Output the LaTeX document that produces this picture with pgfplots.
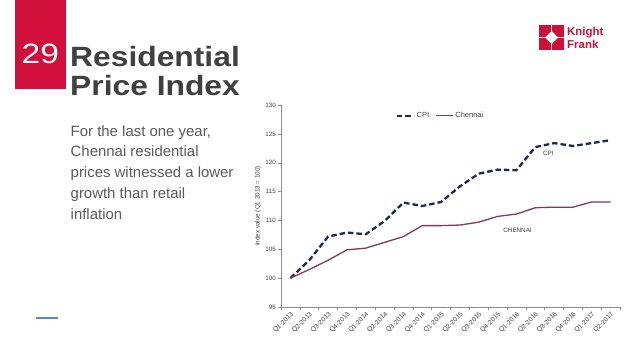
\documentclass[border=0pt]{standalone}
\usepackage{pgfplots}
\pgfplotsset{compat=1.18}
\usepackage{fontspec}
\setmainfont{Liberation Sans}
\definecolor{kfred}{HTML}{D0103A}
\definecolor{cpi}{HTML}{1B2A52}
\definecolor{chen}{HTML}{7D3C5E}
\definecolor{txt}{HTML}{5A5A5A}
\definecolor{ttl}{HTML}{404040}
\definecolor{axc}{HTML}{8C8C8C}
\begin{document}
\begin{tikzpicture}[x=1bp,y=1bp]
\fill[white] (0,0) rectangle (638,359);
% red tab
\fill[kfred] (14.5,359) rectangle (66,270);
\node[anchor=base west, white, font=\fontsize{28}{28}\selectfont, inner sep=0] at (21.5,295.5) {\scalebox{1.2}[1]{29}};
\node[anchor=base west, ttl, font=\fontsize{28}{28}\selectfont\bfseries, inner sep=0] at (70,292.5) {\scalebox{1.14}[1]{Residential}};
\node[anchor=base west, ttl, font=\fontsize{28}{28}\selectfont\bfseries, inner sep=0] at (70,263.5) {\scalebox{1.14}[1]{Price Index}};
% body text
\node[anchor=base west, txt, font=\fontsize{15}{20.8}\selectfont, inner sep=0, align=left] at (70.5,140)
  {For the last one year,\\Chennai residential\\prices witnessed a lower\\growth than retail\\inflation};
% blue line
\draw[color={rgb,255:red,74;green,144;blue,192}, line width=1.2bp] (36,41) -- (58,41);
% logo
\fill[kfred] (539,309) rectangle (564,334);
\fill[white] (551.5,315) -- (558,321.5) -- (551.5,328) -- (545,321.5) -- cycle;
\draw[white, line width=1bp] (539,321.5) -- (564,321.5);
\draw[white, line width=1bp] (551.5,309) -- (551.5,334);
\node[anchor=base west, kfred, font=\fontsize{11.5}{11.5}\selectfont\bfseries, inner sep=0] at (567,324) {Knight};
\node[anchor=base west, kfred, font=\fontsize{11.5}{11.5}\selectfont\bfseries, inner sep=0] at (567,311) {Frank};
\begin{axis}[
  at={(281bp,52bp)}, anchor=south west,
  width=339bp, height=202bp, scale only axis,
  xmin=-0.5, xmax=17.5, ymin=95, ymax=130,
  ytick={95,100,...,130},
  xtick={0,...,17},
  xticklabels={Q1-2013,Q2-2013,Q3-2013,Q4-2013,Q1-2014,Q2-2014,Q3-2014,Q4-2014,Q1-2015,Q2-2015,Q3-2015,Q4-2015,Q1-2016,Q2-2016,Q3-2016,Q4-2016,Q1-2017,Q2-2017},
  minor xtick={-0.5,0.5,...,17.5},
  major x tick style={draw=none},
  minor tick length=3bp, major tick length=3bp,
  tick align=outside,
  tick style={axc, thin},
  axis x line*=bottom, axis y line*=left,
  axis line style={axc, thin},
  x tick label style={rotate=45, anchor=north east, font=\fontsize{6.6}{7}\selectfont, text=ttl, inner sep=0.8bp},
  y tick label style={font=\fontsize{6.3}{7}\selectfont, text=ttl, inner sep=2bp},
  /pgf/number format/assume math mode=true,
  ylabel={Index value (Q1 2013 = 100)},
  every axis y label/.style={at={(ticklabel cs:0.5)}, rotate=90, anchor=south, yshift=-1bp, font=\fontsize{6.3}{7}\selectfont, text=ttl},
  legend style={at={(0.47,0.985)}, anchor=north, draw=none, fill=none, font=\fontsize{7.5}{8}\selectfont, text=ttl, legend columns=2, /tikz/every even column/.append style={column sep=4bp}, /tikz/every odd column/.append style={column sep=0bp}},
  legend image code/.code={\draw[#1] (0bp,0bp) -- (17bp,0bp);},
  clip=false,
]
\addplot[cpi, line width=2.3bp, dash pattern=on 5.5bp off 3bp] coordinates {
(0,100) (1,103.1) (2,107.2) (3,107.9) (4,107.6) (5,109.9) (6,113.1) (7,112.5) (8,113.2) (9,115.9) (10,118.1) (11,118.8) (12,118.7) (13,122.7) (14,123.4) (15,122.9) (16,123.4) (17,123.9)};
\addlegendentry{CPI}
\addplot[chen, line width=1.3bp] coordinates {
(0,100) (1,101.5) (2,103.1) (3,104.9) (4,105.2) (5,106.2) (6,107.2) (7,109.1) (8,109.1) (9,109.2) (10,109.7) (11,110.7) (12,111.1) (13,112.2) (14,112.3) (15,112.3) (16,113.2) (17,113.2)};
\addlegendentry{Chennai}
\node[font=\fontsize{6.3}{7}\selectfont, text=ttl] at (axis cs:13.7,121.7) {CPI};
\node[font=\fontsize{6.3}{7}\selectfont, text=ttl] at (axis cs:12.06,108.3) {CHENNAI};
\end{axis}
\end{tikzpicture}
\end{document}
